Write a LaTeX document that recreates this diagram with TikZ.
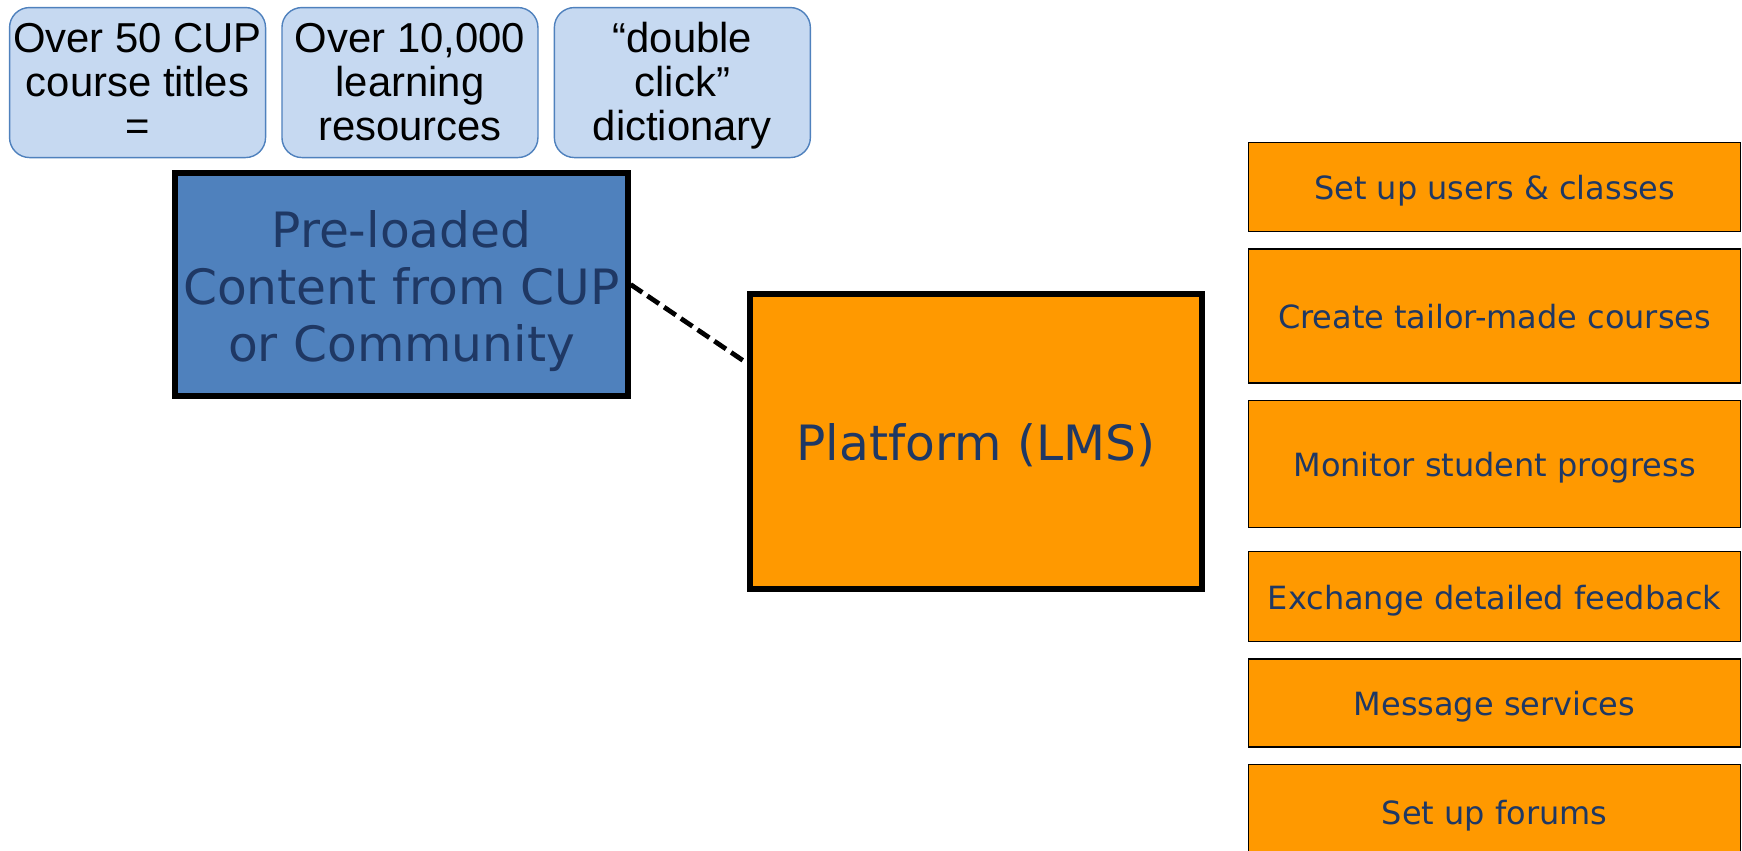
\documentclass[tikz,border=0pt]{standalone}
\usepackage{fontspec}
\setmainfont{DejaVu Sans}
\newfontfamily\boxfont{Liberation Sans}
\usetikzlibrary{matrix,calc}
\definecolor{cupblue}{HTML}{4F81BD}
\definecolor{paleblue}{HTML}{C6D9F1}
\definecolor{lmsorange}{HTML}{FF9900}
\definecolor{inkblue}{HTML}{1F3864}
\def\Stack#1{\raisebox{-0.11cm}[\height][\depth]{\begin{tabular}{@{}c@{}}#1\end{tabular}}}
\def\Lower#1#2{\raisebox{-#1}[\height][\depth]{\begin{tabular}{@{}c@{}}#2\end{tabular}}}
\def\Amp{\char38\relax}
\tikzset{
    bigbox/.style={draw, line width=3pt, align=center, text=inkblue,
        font=\fontsize{27.7}{32.4}\selectfont, inner sep=0pt},
    dashlink/.style={line width=2.7pt, dash pattern=on 8pt off 3.5pt}
}
\def\Resources{
    \matrix (resources)
    [matrix of nodes,
    ampersand replacement=\&,
    inner sep=0pt,
    column sep={0.3cm},
    anchor=north west,
    nodes={outer sep=0pt, rounded corners=0.4cm, draw=cupblue, line width=0.8pt,
        fill=paleblue, minimum width=5.12cm, minimum height=3.0cm, inner sep=0pt,
        font=\boxfont\fontsize{23.8}{25}\selectfont} ]
    at (0.17,-0.13)
    {
     \Stack{Over 50 CUP\\course titles\\=} \& \Stack{Over 10,000\\learning\\resources} \& \Stack{“double\\click”\\dictionary} \\
};
}
\def\Tasks{
    \matrix (tasks)
    [matrix of nodes,
    ampersand replacement=\&,
    inner sep=0pt,
    row sep={0.32cm},
    anchor=north west,
    nodes={outer sep=0pt, inner sep=4pt, draw, line width=0.8pt, fill=lmsorange, text=inkblue,
        text height=14pt, text depth=0pt,
        minimum width=9.84cm, font=\fontsize{18.2}{22}\selectfont} ]
    at (24.95,-2.83)
    {
     |[minimum height=1.78cm]| Set up users \Amp{} classes \\
     |[minimum height=2.68cm]| Create tailor-made courses \\
     |[minimum height=2.54cm]| Monitor student progress \\[0.14cm]
     |[minimum height=1.8cm]| Exchange detailed feedback \\
     |[minimum height=1.76cm]| Message services \\
     |[minimum height=1.9cm]| Set up forums \\
};
}
\begin{document}
\begin{tikzpicture}
    \useasboundingbox (0,0) rectangle (34.84,-17);
    \Resources
    \node[bigbox, fill=cupblue, minimum width=9.06cm, minimum height=4.46cm] (preload) at (8.03,-5.69)
        {\Lower{0.18cm}{Pre-loaded\\Content from CUP\\or Community}};
    \node[bigbox, fill=lmsorange, minimum width=9.04cm, minimum height=5.9cm] (lms) at (19.52,-8.83)
        {\Lower{0.15cm}{Platform (LMS)}};
    \draw[dashlink] (preload.east) -- ($(lms.north west)!0.24!(lms.south west)$);
    \Tasks
    % \draw[red] (tasks-1-1.north west) rectangle (tasks-6-1.south east);
\end{tikzpicture}
\end{document}
